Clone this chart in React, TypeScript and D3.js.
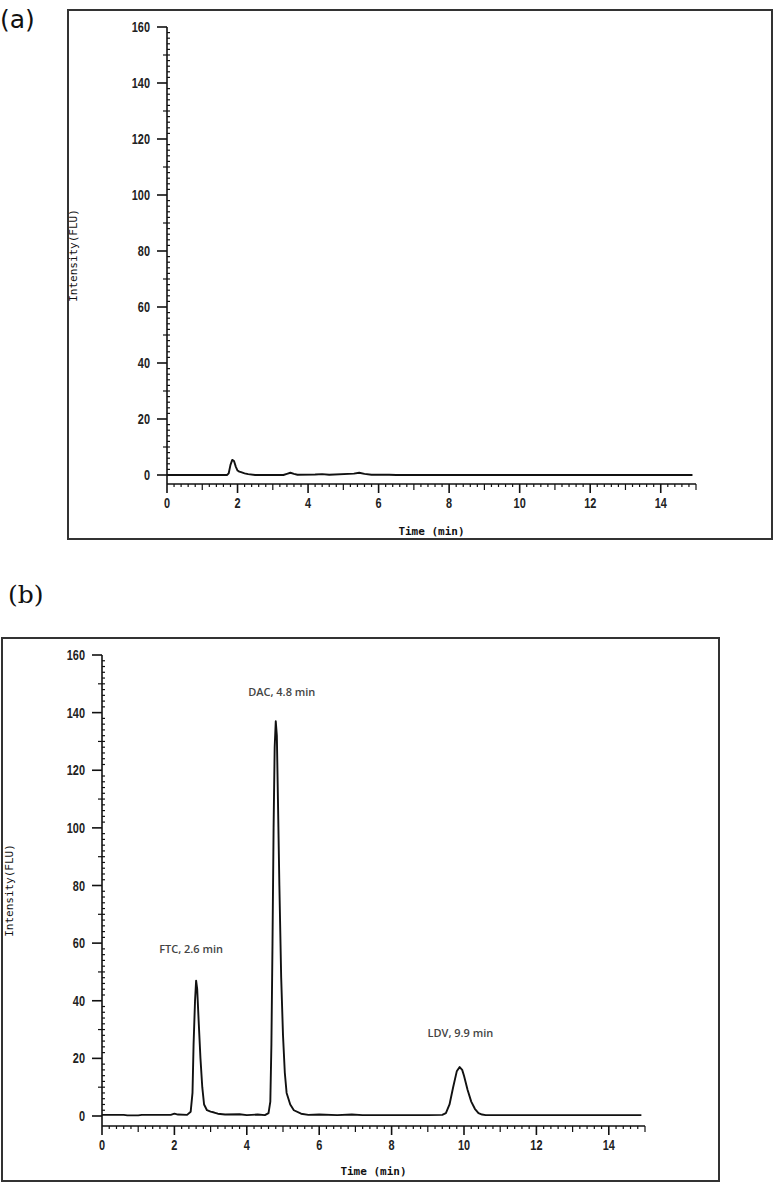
import React from "react";
import * as d3 from "d3";

// ---- Data ----
const xTicks = [0, 2, 4, 6, 8, 10, 12, 14];
const yTicks = [0, 20, 40, 60, 80, 100, 120, 140, 160];

const traceATime = [0, 1.7, 1.75, 1.8, 1.85, 1.9, 1.95, 2.0, 2.05, 2.1, 2.2, 2.3, 2.5, 3.3, 3.4, 3.5, 3.6, 3.7, 4.2, 4.4, 4.6, 5.3, 5.45, 5.6, 5.8, 6.3, 6.5, 14.9];
const traceAValue = [0, 0, 0.6, 3.6, 5.4, 5.0, 3.0, 1.6, 1.2, 1.0, 0.6, 0.3, 0, 0, 0.4, 0.8, 0.4, 0.1, 0.2, 0.3, 0.1, 0.5, 0.8, 0.4, 0.1, 0.1, 0, 0];

const traceBTime = [0, 0.6, 0.7, 1.0, 1.1, 1.9, 2.0, 2.1, 2.35, 2.45, 2.5, 2.53, 2.57, 2.6, 2.63, 2.67, 2.72, 2.77, 2.82, 2.9, 3.0, 3.1, 3.2, 3.4, 3.8, 4.0, 4.3, 4.5, 4.6, 4.65, 4.68, 4.71, 4.74, 4.77, 4.8, 4.83, 4.86, 4.9, 4.95, 5.0, 5.05, 5.1, 5.2, 5.3, 5.5, 5.7, 6.0, 6.5, 6.9, 7.2, 8.0, 9.0, 9.4, 9.5, 9.6, 9.7, 9.8, 9.88, 9.95, 10.0, 10.1, 10.2, 10.3, 10.4, 10.5, 10.6, 14.9];
const traceBValue = [0.4, 0.4, 0.2, 0.2, 0.4, 0.4, 0.8, 0.5, 0.4, 1.5, 8, 25, 40, 47, 44, 33, 20, 10, 4, 2, 1.5, 1.2, 0.8, 0.5, 0.6, 0.3, 0.5, 0.3, 1, 5, 25, 60, 100, 128, 137, 132, 110, 80, 48, 28, 15, 8, 4, 2, 0.8, 0.4, 0.5, 0.3, 0.5, 0.3, 0.3, 0.3, 0.4, 1, 4, 10, 15.5, 17, 16, 14, 9, 5, 2.5, 1, 0.5, 0.3, 0.3];

const peakLabels = ["FTC, 2.6 min", "DAC, 4.8 min", "LDV, 9.9 min"];
const peakTimes = [2.6, 4.8, 9.9];
const peakHeights = [47, 137, 17];

type PanelProps = {
  x0: number; x15: number; y0: number; y160: number; axisY: number;
  times: number[]; values: number[];
  frame: [number, number, number, number];
  yLabelX: number; xLabelY: number;
  labels?: boolean;
};

const tickFont = "'Liberation Sans', 'Arial', sans-serif";
const monoFont = "'DejaVu Sans Mono', 'Liberation Mono', monospace";

function Panel(p: PanelProps) {
  const x = d3.scaleLinear().domain([0, 15]).range([p.x0, p.x15]);
  const y = d3.scaleLinear().domain([0, 160]).range([p.y0, p.y160]);
  const pts = p.times.map((t, i) => [t, p.values[i]] as [number, number]);
  const line = d3.line<[number, number]>().x(d => x(d[0])).y(d => y(d[1]));
  const xMinor = d3.range(0, 151, 2).map(v => v / 10);
  const yMinor = d3.range(0, 161, 2);
  const [fx, fy, fw, fh] = p.frame;
  return (
    <g>
      <rect x={fx} y={fy} width={fw} height={fh} fill="none" stroke="#333" strokeWidth={2} />
      {/* y axis */}
      <line x1={p.x0} x2={p.x0} y1={y(160)} y2={p.axisY} stroke="#111" strokeWidth={1.6} />
      {yMinor.map(v => {
        const major = v % 20 === 0;
        const med = v % 10 === 0 && !major;
        return major ? null : (
          <line key={"ym" + v} x1={med ? p.x0 - 4 : p.x0} x2={p.x0 + 3} y1={y(v)} y2={y(v)} stroke="#111" strokeWidth={1.2} />
        );
      })}
      {yTicks.map(v => (
        <g key={"y" + v}>
          <line x1={p.x0 - 10} x2={p.x0} y1={y(v)} y2={y(v)} stroke="#111" strokeWidth={1.6} />
          <text transform={`translate(${p.x0 - 17},${y(v) + 5}) scale(0.78,1)`} textAnchor="end" fontFamily={tickFont} fontWeight="bold" fontSize={14} fill="#222">{v}</text>
        </g>
      ))}
      {/* x axis */}
      <line x1={p.x0} x2={x(15)} y1={p.axisY} y2={p.axisY} stroke="#111" strokeWidth={1.6} />
      {xMinor.map(v => {
        const r = Math.round(v * 10);
        const major = r % 20 === 0;
        const med = r % 10 === 0 && !major;
        const len = major ? 9 : med ? 6 : 3;
        return <line key={"xm" + r} x1={x(v)} x2={x(v)} y1={p.axisY} y2={p.axisY + len} stroke="#111" strokeWidth={major ? 1.6 : 1.2} />;
      })}
      {xTicks.map(v => (
        <text key={"x" + v} transform={`translate(${x(v)},${p.axisY + 24}) scale(0.78,1)`} textAnchor="middle" fontFamily={tickFont} fontWeight="bold" fontSize={14} fill="#222">{v}</text>
      ))}
      {/* trace */}
      <path d={line(pts) || ""} fill="none" stroke="#111" strokeWidth={1.9} strokeLinejoin="round" />
      {/* axis labels */}
      <text x={(p.x0 + x(15)) / 2} y={p.xLabelY} textAnchor="middle" fontFamily={monoFont} fontWeight="bold" fontSize={11} fill="#111">Time (min)</text>
      <text transform={`translate(${p.yLabelX},${(y(160) + p.axisY) / 2}) rotate(-90)`} textAnchor="middle" fontFamily={monoFont} fontSize={11} fill="#111" dy="0.35em">Intensity(FLU)</text>
      {p.labels && peakLabels.map((l, i) => (
        <text key={l} x={x(peakTimes[i]) + (i === 1 ? 6 : i === 0 ? -5 : 0)} y={y(peakHeights[i]) - (i === 1 ? 25 : i === 0 ? 28 : 30)} textAnchor="middle" fontFamily="'Open Sans', sans-serif" fontWeight={600} fontSize={11} fill="#444">{l}</text>
      ))}
    </g>
  );
}

export default function App() {
  return (
    <svg width={773} height={1182} style={{ position: "absolute", left: 0, top: 0, background: "#fff" }}>
      <rect width={773} height={1182} fill="#fff" />
      <text x={0} y={28} fontFamily="'DejaVu Sans', sans-serif" fontSize={25} fill="#111">(a)</text>
      <text x={8} y={603} fontFamily="'DejaVu Serif', serif" fontSize={25} fill="#111">(b)</text>
      <Panel x0={167} x15={696} y0={475} y160={27} axisY={484}
        times={traceATime} values={traceAValue}
        frame={[68, 10, 704, 529]} yLabelX={73} xLabelY={535} />
      <Panel x0={102} x15={645} y0={1116} y160={655} axisY={1126}
        times={traceBTime} values={traceBValue}
        frame={[2, 638, 717, 543]} yLabelX={9} xLabelY={1175} labels />
    </svg>
  );
}
